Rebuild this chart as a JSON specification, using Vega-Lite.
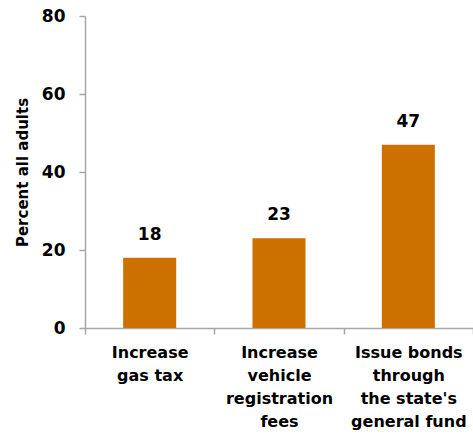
{
  "$schema": "https://vega.github.io/schema/vega-lite/v6.json",
  "width": 388,
  "height": 312,
  "autosize": {"type": "none"},
  "padding": {"left": 85, "top": 16, "right": 0, "bottom": 108},
  "background": "white",
  "config": {"view": {"stroke": null}, "font": "DejaVu Sans"},
  "data": {
    "values": [
      {"option": "Increase|gas tax", "pct": 18},
      {"option": "Increase|vehicle|registration|fees", "pct": 23},
      {"option": "Issue bonds|through|the state's|general fund", "pct": 47}
    ]
  },
  "encoding": {
    "x": {
      "field": "option",
      "type": "nominal",
      "sort": null,
      "scale": {"paddingInner": 0, "paddingOuter": 0},
      "axis": {
        "title": null,
        "labelAngle": 0,
        "labelExpr": "datum.value ? split(datum.value, '|') : ''",
        "labelFont": "DejaVu Sans",
        "labelFontWeight": "bold",
        "labelFontSize": 16,
        "labelLineHeight": 23,
        "labelColor": "black",
        "labelPadding": 10,
        "labelBaseline": "top",
        "tickBand": "extent",
        "tickSize": 6,
        "tickColor": "#A6A6A6",
        "tickWidth": 1.5,
        "domainColor": "#A6A6A6",
        "domainWidth": 1.5
      }
    },
    "y": {
      "field": "pct",
      "type": "quantitative",
      "scale": {"domain": [0, 80], "nice": false},
      "axis": {
        "title": "Percent all adults",
        "titleFont": "DejaVu Sans",
        "titleFontSize": 15,
        "titleFontWeight": "bold",
        "titleColor": "black",
        "titlePadding": 11,
        "values": [0, 20, 40, 60, 80],
        "labelFont": "DejaVu Sans",
        "labelFontSize": 17,
        "labelFontWeight": "bold",
        "labelColor": "black",
        "labelPadding": 14,
        "tickSize": 6,
        "tickColor": "#A6A6A6",
        "tickWidth": 1.5,
        "domainColor": "#A6A6A6",
        "domainWidth": 1.5,
        "grid": false
      }
    }
  },
  "layer": [
    {
      "mark": {"type": "bar", "color": "#CC7000", "width": {"band": 0.41}}
    },
    {
      "mark": {
        "type": "text",
        "dy": -18,
        "baseline": "alphabetic",
        "font": "DejaVu Sans",
        "fontSize": 17,
        "fontWeight": "bold",
        "color": "black"
      },
      "encoding": {"text": {"field": "pct", "type": "quantitative"}}
    }
  ]
}
